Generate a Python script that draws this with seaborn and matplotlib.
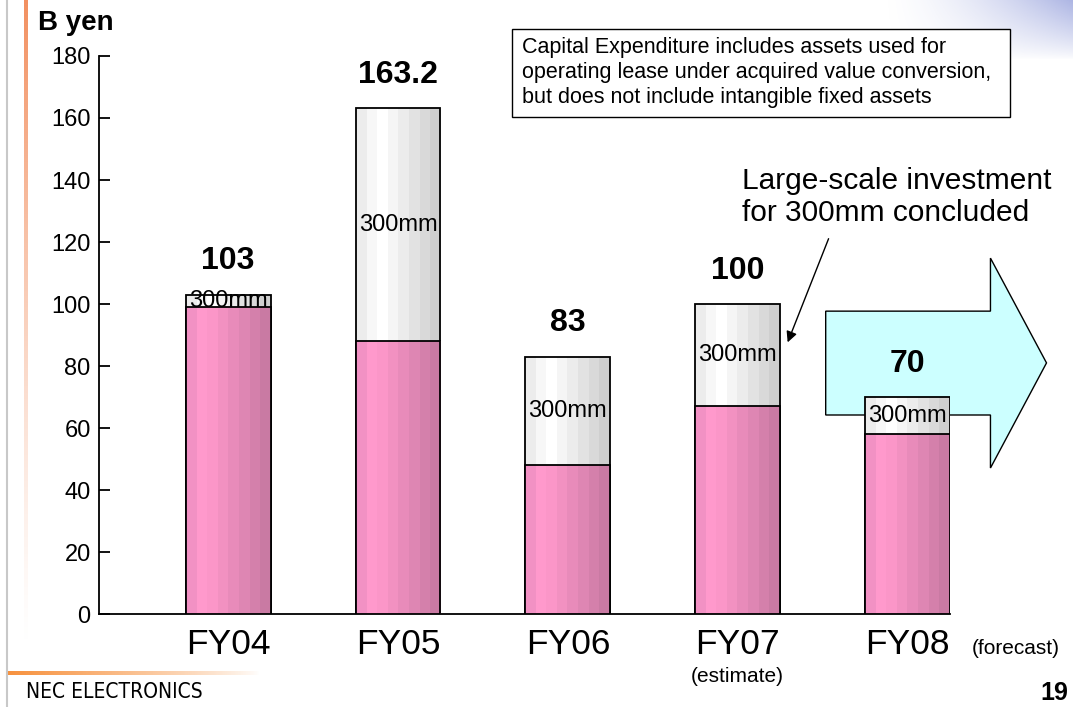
import numpy as np
import pandas as pd
import matplotlib
matplotlib.use("Agg")
import matplotlib.pyplot as plt
from matplotlib import font_manager
from matplotlib.colors import to_rgb
from matplotlib.patches import Polygon, Rectangle
import seaborn as sns

# data
categories = ["FY04", "FY05", "FY06", "FY07", "FY08"]
base_values = [99, 88, 48, 67, 58]          # pink part
total_values = [103, 163.2, 83, 100, 70]    # top of the 300mm part
total_labels = ["103", "163.2", "83", "100", "70"]
segment_label = "300mm"
y_ticks = [0, 20, 40, 60, 80, 100, 120, 140, 160, 180]

note_lines = [
    "Capital Expenditure includes assets used for",
    "operating lease under acquired value conversion,",
    "but does not include intangible fixed assets",
]

PINK_COLS = ["#f291c4", "#ff99cc", "#fb96c8", "#f291c1", "#e88bba",
             "#de86b3", "#d480ab", "#c97aa3"]
GRAY_COLS = ["#ececec", "#f7f7f7", "#ffffff", "#f5f5f5", "#ececec",
             "#e2e2e2", "#d9d9d9", "#cfcfcf"]

df = pd.DataFrame({"year": categories, "base": base_values, "total": total_values})

sns.set_theme(style="white")
plt.rcParams["font.family"] = ["Liberation Sans", "DejaVu Sans"]
plt.rcParams["text.color"] = "black"

fig = plt.figure(figsize=(10.73, 7.07), dpi=100)
ax = fig.add_axes([0.0923, 0.1315, 0.7931, 0.7893])

sns.barplot(data=df, x="year", y="total", color="#eeeeee", width=0.5, ax=ax)
sns.barplot(data=df, x="year", y="base", color="#ff99cc", width=0.5, ax=ax)


def fill_gradient(patch, cols, z):
    """Striped horizontal gradient clipped to a bar."""
    x, y = patch.get_x(), patch.get_y()
    w, h = patch.get_width(), patch.get_height()
    img = np.array([[to_rgb(c) for c in cols]])
    im = ax.imshow(img, extent=[x, x + w, y, y + h], aspect="auto",
                   interpolation="nearest", zorder=z)
    im.set_clip_path(patch)
    patch.set_facecolor("none")
    patch.set_edgecolor("black")
    patch.set_linewidth(1.3)
    patch.set_zorder(z + 0.5)


n = len(categories)
for i, p in enumerate(list(ax.patches)):
    if i < n:
        fill_gradient(p, GRAY_COLS, 2)
    else:
        fill_gradient(p, PINK_COLS, 3)

ax.set_xlim(-0.76, 4.25)
ax.set_ylim(0, 180)
ax.set_yticks(y_ticks)
ax.set_xlabel("")
ax.set_ylabel("")

sns.despine(ax=ax)
for s in ["left", "bottom"]:
    ax.spines[s].set_color("black")
    ax.spines[s].set_linewidth(1.3)
ax.tick_params(axis="y", left=True, direction="in", length=8, width=1.3,
               labelsize=17, pad=6, colors="black")
ax.tick_params(axis="x", bottom=False, labelsize=25.5, pad=4, colors="black")

# value labels and 300mm labels
for i, (b, t, lab) in enumerate(zip(base_values, total_values, total_labels)):
    ax.annotate(lab, (i, t), xytext=(0, 24), textcoords="offset points",
                ha="center", va="center", fontsize=23, fontweight="bold", zorder=6)
    ax.text(i, (b + t) / 2, segment_label, ha="center", va="center",
            fontsize=17, zorder=6)

# big arrow behind FY08
arrow_xy = [(3.518, 97.7), (4.488, 97.7), (4.488, 114.8), (4.818, 81.0),
            (4.488, 47.1), (4.488, 64.2), (3.518, 64.2)]
ax.add_patch(Polygon(arrow_xy, closed=True, facecolor="#ccffff",
                     edgecolor="black", lw=1, zorder=1, clip_on=False))

# callout
ax.text(3.024, 134.5, "Large-scale investment\nfor 300mm concluded",
        ha="left", va="center", fontsize=21.5, linespacing=1.15)
ax.annotate("", xy=(3.288, 86.8), xytext=(3.541, 121.9),
            arrowprops=dict(arrowstyle="-|>", color="black", lw=1,
                            mutation_scale=16))

# sub labels under the category names
ax.annotate("(estimate)", xy=(3, 0), xycoords=("data", "axes fraction"),
            xytext=(0, -45), textcoords="offset points",
            ha="center", va="center", fontsize=15)
ax.annotate("(forecast)", xy=(4.376, 0), xycoords=("data", "axes fraction"),
            xytext=(0, -24.5), textcoords="offset points",
            ha="left", va="center", fontsize=15, annotation_clip=False)

# note box
fig.add_artist(Rectangle((512 / 1073, 1 - 117 / 707), 498 / 1073, 88 / 707,
                         transform=fig.transFigure, facecolor="white",
                         edgecolor="black", lw=1))
for k, line in enumerate(note_lines):
    fig.text(522 / 1073, 1 - (48 + 24.5 * k) / 707, line,
             ha="left", va="center", fontsize=15.5)

# slide furniture
fig.text(38 / 1073, 1 - 23 / 707, "B yen", ha="left", va="center",
         fontsize=20, fontweight="bold")
fig.text(1068 / 1073, 1 - 693 / 707, "19", ha="right", va="center",
         fontsize=18, fontweight="bold")

# narrow font for the company name, if one is installed
narrow = None
for f in font_manager.fontManager.ttflist:
    if "Narrow" in f.name and "Liberation" in f.name and f.weight in (400, "normal") \
            and f.style == "normal":
        narrow = f.fname
        break
if narrow is None:
    for f in font_manager.fontManager.ttflist:
        if str(f.stretch) in ("condensed", "semi-condensed") and f.style == "normal" \
                and f.weight in (400, "normal"):
            narrow = f.fname
            break
if narrow is not None:
    fig.text(26 / 1073, 1 - 692 / 707, "NEC ELECTRONICS", ha="left", va="center",
             font=font_manager.FontProperties(fname=narrow, size=15))
else:
    fig.text(26 / 1073, 1 - 692 / 707, "NEC ELECTRONICS", ha="left", va="center",
             fontsize=13.5)

fig.add_artist(plt.Line2D([7 / 1073, 7 / 1073], [0, 1],
                          transform=fig.transFigure, color="#c8c8c8", lw=1.5))


def fig_gradient(rect, rgba):
    gax = fig.add_axes(rect, zorder=-1)
    gax.imshow(rgba, aspect="auto", interpolation="bilinear")
    gax.set_axis_off()


# orange vertical strip fading downwards
h = 200
v = np.zeros((h, 1, 4))
v[..., :3] = to_rgb("#f29060")
v[:, 0, 3] = np.linspace(1, 0, h) ** 1.3
fig_gradient([24 / 1073, 1 - 650 / 707, 4 / 1073, 650 / 707], v)

# orange line above the footer fading to the right
w = 200
hz = np.zeros((1, w, 4))
hz[..., :3] = to_rgb("#f7913d")
hz[0, :, 3] = np.linspace(1, 0, w) ** 0.8
fig_gradient([7 / 1073, 1 - 675 / 707, 253 / 1073, 4 / 707], hz)

# blue haze in the top right corner
gx = np.linspace(0, 1, 200)
gy = np.linspace(0, 1, 60)
X, Y = np.meshgrid(gx, gy)
tr = np.zeros((60, 200, 4))
tr[..., :3] = to_rgb("#8a96d8")
tr[..., 3] = np.clip(X ** 1.6 * (1 - Y) ** 0.8 * 0.7, 0, 1)
fig_gradient([880 / 1073, 1 - 60 / 707, 193 / 1073, 60 / 707], tr)

fig.savefig("out.png", dpi=100)
